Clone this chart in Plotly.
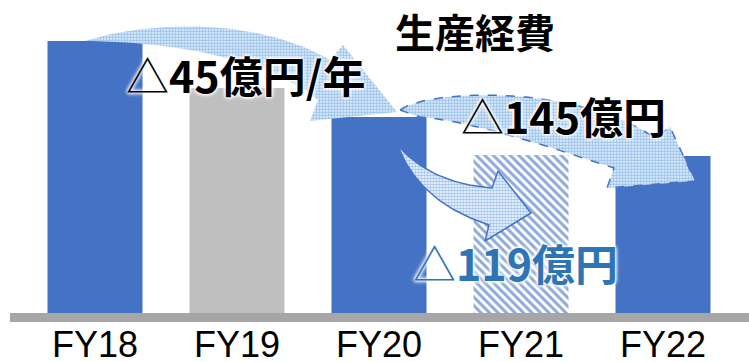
import plotly.graph_objects as go

# ---------------- data ----------------
categories = ["FY18", "FY19", "FY20", "FY21", "FY22"]
cost_values = [272, 225, 196, 158, 157]          # relative production cost (bar heights)
bar_colors = ["#4472C4", "#BFBFBF", "#4472C4", "#8EA9DB", "#4472C4"]
bar_patterns = ["", "", "", "\\", ""]

title_text = "生産経費"
label_fy18_fy20 = "△<b>45億円/年</b>"
label_fy20_fy22 = "△<b>145億円</b>"
label_fy20_fy21 = "△<b>119億円</b>"

W, H = 749, 362

fig = go.Figure()

fig.add_trace(go.Bar(
    x=categories, y=cost_values,
    marker=dict(color=bar_colors, line=dict(width=0),
                pattern=dict(shape=bar_patterns, fgcolor="#8EA9DB", bgcolor="white",
                             fillmode="replace", size=6, solidity=0.5)),
    hoverinfo="skip", xaxis="x", yaxis="y",
))

# ---------------- decorative arrows (pixel overlay) ----------------
def cubic(p0, p1, p2, p3, n=40):
    pts = []
    for i in range(n + 1):
        t = i / n
        a = (1 - t) ** 3; b = 3 * (1 - t) ** 2 * t; c = 3 * (1 - t) * t ** 2; d = t ** 3
        pts.append((a * p0[0] + b * p1[0] + c * p2[0] + d * p3[0],
                    a * p0[1] + b * p1[1] + c * p2[1] + d * p3[1]))
    return pts

def arrow(top, head, bottom):
    pts = cubic(*top) + head + cubic(*bottom)
    pts.append(pts[0])
    return [p[0] for p in pts], [p[1] for p in pts]

# arrow 1: FY18 -> FY20
ax1, ay1 = arrow(((85, 41), (150, 20), (260, 18), (330, 60)),
                 [(343, 45), (397, 112), (310, 121)],
                 ((318, 100), (270, 60), (180, 42), (85, 41)))
# arrow 2: FY20 -> FY22
ax2, ay2 = arrow(((400, 110), (430, 88), (580, 85), (655, 138)),
                 [(670, 127), (695, 181), (607, 188)],
                 ((614, 168), (560, 150), (470, 120), (420, 117)))
# arrow 3: FY20 -> FY21
ax3, ay3 = arrow(((398, 146), (420, 170), (450, 185), (492, 188)),
                 [(498, 171), (531, 213), (485, 241)],
                 ((489, 225), (450, 212), (415, 190), (398, 146)))

dots = dict(shape=".", fgcolor="#3D8BDB", bgcolor="white", size=3, solidity=0.72)
fig.add_trace(go.Scatter(
    x=ax1, y=ay1, mode="lines", fill="toself", line=dict(width=0, color="rgba(0,0,0,0)"),
    fillcolor="#3D8BDB", fillpattern=dots,
    hoverinfo="skip", xaxis="x2", yaxis="y2"))
fig.add_trace(go.Scatter(
    x=ax2, y=ay2, mode="lines", fill="toself", line=dict(width=1.5, color="#4472C4", dash="dash"),
    fillcolor="#3D8BDB", fillpattern=dots,
    hoverinfo="skip", xaxis="x2", yaxis="y2"))
fig.add_trace(go.Scatter(
    x=ax3, y=ay3, mode="lines", fill="toself", line=dict(width=1.5, color="#4472C4"),
    fillcolor="#3F86E0",
    fillpattern=dict(shape=".", fgcolor="#3F86E0", bgcolor="white", size=3, solidity=0.6),
    hoverinfo="skip", xaxis="x2", yaxis="y2"))

# baseline
fig.add_shape(type="rect", xref="x2", yref="y2", x0=10, x1=749, y0=313, y1=322,
              fillcolor="#A6A6A6", line=dict(width=0))

glow = "0 0 3px #fff, 0 0 3px #fff, 0 0 4px #fff, 0 0 5px #fff"
cjk = "Noto Sans CJK JP"
fig.add_annotation(x=475, y=31, xref="x2", yref="y2", text=f"<b>{title_text}</b>",
                   showarrow=False, font=dict(family=cjk, size=40, color="black"))
fig.add_annotation(x=245, y=74, xref="x2", yref="y2", text=label_fy18_fy20,
                   showarrow=False, font=dict(family=cjk, size=43, color="black", shadow=glow))
fig.add_annotation(x=563, y=115, xref="x2", yref="y2", text=label_fy20_fy22,
                   showarrow=False, font=dict(family=cjk, size=43, color="black", shadow=glow))
fig.add_annotation(x=515, y=262, xref="x2", yref="y2", text=label_fy20_fy21,
                   showarrow=False, font=dict(family=cjk, size=43, color="#2E75B6", shadow=glow))

fig.update_layout(
    width=W, height=H, margin=dict(l=0, r=0, t=0, b=0, autoexpand=False),
    paper_bgcolor="white", plot_bgcolor="rgba(0,0,0,0)",
    showlegend=False, bargap=0.331,
    xaxis=dict(domain=[24 / W, 734 / W], type="category", showgrid=False, zeroline=False,
               showline=False, ticks="outside", ticklen=0, tickcolor="rgba(0,0,0,0)",
               automargin=False,
               tickfont=dict(family="Liberation Sans", size=36, color="black"),
               anchor="y", fixedrange=True),
    yaxis=dict(domain=[49 / H, 1], range=[0, 313], visible=False, anchor="x", fixedrange=True,
               automargin=False),
    xaxis2=dict(domain=[0, 1], range=[0, W], visible=False, anchor="y2", fixedrange=True),
    yaxis2=dict(domain=[0, 1], range=[H, 0], visible=False, anchor="x2", fixedrange=True),
)

fig.write_html("out.html")
